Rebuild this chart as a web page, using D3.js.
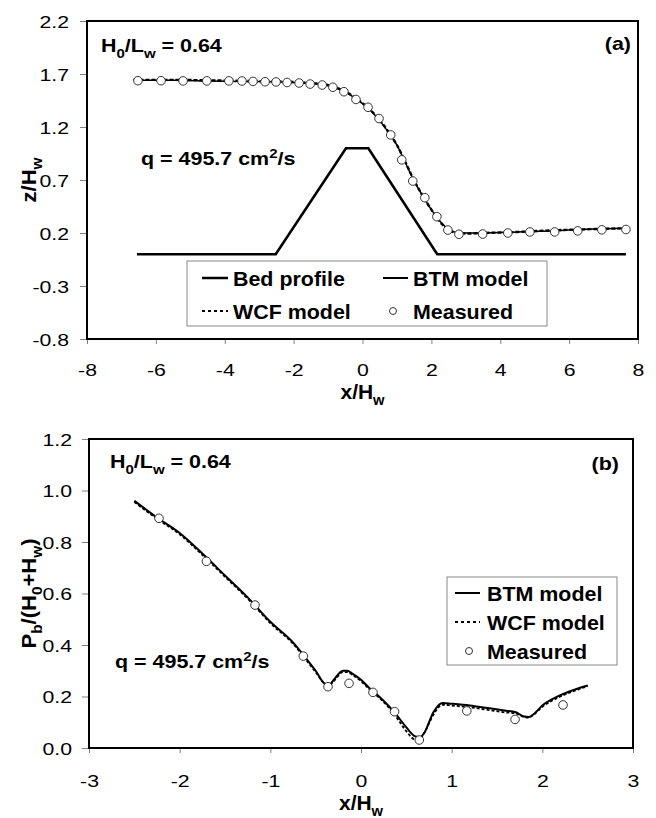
<!DOCTYPE html>
<html>
<head>
<meta charset="utf-8">
<script src="https://cdn.jsdelivr.net/npm/d3@7"></script>
<style>
  body { margin: 0; background: #fff; }
  svg { display: block; font-family: "Liberation Sans", Arial, sans-serif; }
  .tick line { stroke: #808080; }
</style>
</head>
<body>
<div class="chart"></div>
<script>
// ---- panel (a): water surface over the bed hump ----
const bedX = [-6.55, -2.52, -0.48, 0.17, 2.17, 7.65];
const bedZ = [0, 0, 1.0, 1.0, 0, 0];

const surfX = [-6.65, -5.5, -4.5, -3.5, -2.5, -2.0, -1.5, -1.0, -0.75, -0.5, -0.25, 0, 0.25, 0.5, 0.75,
               1.0, 1.25, 1.5, 1.75, 2.0, 2.25, 2.5, 2.75, 3.0, 3.5, 4.5, 5.5, 6.5, 7.65];
const btmZ = [1.64, 1.64, 1.635, 1.63, 1.625, 1.62, 1.61, 1.59, 1.565, 1.53, 1.48, 1.42, 1.35, 1.26, 1.15,
              1.03, 0.86, 0.69, 0.55, 0.42, 0.31, 0.235, 0.205, 0.20, 0.20, 0.21, 0.22, 0.235, 0.245];
const wcfZ = [1.645, 1.645, 1.64, 1.635, 1.63, 1.625, 1.615, 1.595, 1.57, 1.535, 1.485, 1.425, 1.355, 1.265, 1.155,
              1.03, 0.865, 0.695, 0.55, 0.42, 0.305, 0.23, 0.20, 0.195, 0.20, 0.21, 0.225, 0.235, 0.245];

const measAX = [-6.52, -5.85, -5.21, -4.52, -3.88, -3.50, -3.18, -2.83, -2.51, -2.19, -1.84, -1.52, -1.17,
                -0.86, -0.54, -0.19, 0.16, 0.48, 0.82, 1.14, 1.46, 1.81, 2.16, 2.48, 2.80, 3.49, 4.22,
                4.86, 5.58, 6.25, 6.95, 7.65];
const measAZ = [1.637, 1.637, 1.635, 1.635, 1.635, 1.634, 1.63, 1.627, 1.625, 1.62, 1.615, 1.605, 1.596,
                1.575, 1.533, 1.46, 1.386, 1.28, 1.125, 0.89, 0.69, 0.533, 0.354, 0.228, 0.188, 0.19, 0.20,
                0.21, 0.21, 0.22, 0.23, 0.233];

const aXTicks = [-8, -6, -4, -2, 0, 2, 4, 6, 8];
const aYTicks = [-0.8, -0.3, 0.2, 0.7, 1.2, 1.7, 2.2];

// ---- panel (b): bed pressure ----
const presX = [-2.5, -2.25, -2, -1.75, -1.5, -1.25, -1, -0.75, -0.6, -0.5, -0.4, -0.35, -0.3, -0.2, -0.15, -0.1,
               0, 0.1, 0.2, 0.3, 0.4, 0.5, 0.6, 0.65, 0.7, 0.8, 0.9, 1.0, 1.2, 1.4, 1.6, 1.7, 1.8, 1.85, 1.9,
               2.0, 2.2, 2.4, 2.5];
const btmP = [0.96, 0.895, 0.835, 0.755, 0.67, 0.585, 0.49, 0.41, 0.345, 0.30, 0.25, 0.245, 0.265, 0.30, 0.30, 0.29,
              0.265, 0.23, 0.20, 0.165, 0.125, 0.08, 0.045, 0.042, 0.06, 0.14, 0.175, 0.172, 0.165, 0.155, 0.145, 0.14,
              0.122, 0.12, 0.13, 0.165, 0.205, 0.232, 0.243];
const wcfP = [0.955, 0.89, 0.83, 0.75, 0.665, 0.58, 0.485, 0.405, 0.34, 0.295, 0.25, 0.245, 0.26, 0.295, 0.295, 0.285,
              0.26, 0.225, 0.195, 0.16, 0.115, 0.065, 0.033, 0.035, 0.06, 0.13, 0.168, 0.165, 0.158, 0.148, 0.138, 0.135,
              0.12, 0.118, 0.128, 0.16, 0.2, 0.228, 0.24];

const measBX = [-2.228, -1.705, -1.169, -0.636, -0.364, -0.132, 0.132, 0.370, 0.643, 1.167, 1.699, 2.228];
const measBP = [0.892, 0.725, 0.555, 0.357, 0.238, 0.251, 0.216, 0.141, 0.031, 0.144, 0.111, 0.167];

const bXTicks = [-3, -2, -1, 0, 1, 2, 3];
const bYTicks = [0, 0.2, 0.4, 0.6, 0.8, 1.0, 1.2];

// -----------------------------------------------------
const W = 656, H = 818;
const TICK_FS = 17, TICK_SX = 1.25;   // tick numbers are drawn wide in the source

const svg = d3.select("div.chart").append("svg")
    .attr("width", W).attr("height", H);
svg.append("rect").attr("width", W).attr("height", H).attr("fill", "#fff");

// text with sub/superscripts; sx stretches it sideways (or across, when rotated)
function richText(parent, x, y, parts, size, sx, anchor, rotate) {
    let tf = rotate ? `translate(${x},${y}) rotate(-90) scale(1,${sx})`
                    : `translate(${x},${y}) scale(${sx},1)`;
    let t = parent.append("text")
        .attr("transform", tf)
        .style("font-size", size + "px")
        .attr("font-weight", "bold")
        .attr("text-anchor", anchor || "start");
    let shift = 0;
    parts.forEach(p => {
        let s = p[1] === "sub" ? 0.3 * size : p[1] === "sup" ? -0.4 * size : 0;
        t.append("tspan")
            .attr("dy", s - shift)
            .style("font-size", (p[1] ? size * 0.7 : size) + "px")
            .text(p[0]);
        shift = s;
    });
    return t;
}

// plain hyphen minus, like the source
const fmtInt = d => d3.format("d")(d).replace("\u2212", "-");
const fmtOne = d => d3.format(".1f")(d).replace("\u2212", "-");

function drawAxes(g, x, y, box, xTicks, yTicks, ylabX, xlabY) {
    let xa = g.append("g")
        .attr("transform", `translate(0,${box.bottom})`)
        .call(d3.axisBottom(x).tickValues(xTicks).tickSizeInner(5).tickSizeOuter(0).tickFormat(fmtInt))
        .attr("font-family", null).attr("font-size", null);
    xa.select(".domain").remove();
    xa.selectAll("text")
        .attr("y", xlabY).attr("dy", 0)
        .style("font-size", TICK_FS + "px").attr("fill", "#000")
        .attr("transform", `scale(${TICK_SX},1)`);

    let ya = g.append("g")
        .attr("transform", `translate(${box.left},0)`)
        .call(d3.axisLeft(y).tickValues(yTicks).tickSizeInner(7).tickSizeOuter(0).tickFormat(fmtOne))
        .attr("font-family", null).attr("font-size", null);
    ya.select(".domain").remove();
    ya.selectAll("text")
        .attr("x", -ylabX / TICK_SX).attr("dy", "0.36em")
        .style("font-size", TICK_FS + "px").attr("fill", "#000")
        .attr("transform", `scale(${TICK_SX},1)`);

    g.append("rect")
        .attr("x", box.left).attr("y", box.top)
        .attr("width", box.right - box.left).attr("height", box.bottom - box.top)
        .attr("fill", "none").attr("stroke", "#000").attr("stroke-width", 2);
}

function legendRow(g, kind, x0, x1, cy, label, tx) {
    if (kind === "circle") {
        g.append("circle").attr("cx", (x0 + x1) / 2).attr("cy", cy).attr("r", 3.5)
            .attr("fill", "#fff").attr("stroke", "#333").attr("stroke-width", 1);
    } else {
        g.append("line").attr("x1", x0).attr("x2", x1).attr("y1", cy).attr("y2", cy)
            .attr("stroke", "#000")
            .attr("stroke-width", kind === "bed" ? 2.5 : 2)
            .attr("stroke-dasharray", kind === "dash" ? "3,3" : null);
    }
    richText(g, tx, cy + 7.5, [[label]], 21, 1.02);
}

// ================= panel (a) =================
const boxA = {left: 87, right: 638, top: 21, bottom: 339};
const xA = d3.scaleLinear().domain([-8, 8]).range([boxA.left, boxA.right]);
const yA = d3.scaleLinear().domain([-0.8, 2.2]).range([boxA.bottom, boxA.top]);
const gA = svg.append("g");

gA.append("path")
    .datum(d3.zip(bedX, bedZ))
    .attr("d", d3.line().x(d => xA(d[0])).y(d => yA(d[1])))
    .attr("fill", "none").attr("stroke", "#000").attr("stroke-width", 2.6);

gA.append("path")
    .datum(d3.zip(surfX, btmZ))
    .attr("d", d3.line().curve(d3.curveMonotoneX).x(d => xA(d[0])).y(d => yA(d[1])))
    .attr("fill", "none").attr("stroke", "#000").attr("stroke-width", 1.5);
gA.append("path")
    .datum(d3.zip(surfX, wcfZ))
    .attr("d", d3.line().curve(d3.curveMonotoneX).x(d => xA(d[0])).y(d => yA(d[1])))
    .attr("fill", "none").attr("stroke", "#000").attr("stroke-width", 2.4)
    .attr("stroke-dasharray", "4,2");

gA.selectAll("circle.meas")
    .data(d3.zip(measAX, measAZ))
    .enter().append("circle")
    .attr("class", "meas")
    .attr("cx", d => xA(d[0])).attr("cy", d => yA(d[1]))
    .attr("r", 4.3)
    .attr("fill", "#fff").attr("stroke", "#333").attr("stroke-width", 1);

drawAxes(gA, xA, yA, boxA, aXTicks, aYTicks, 18, 37.5);

richText(gA, 101, 52, [["H"], ["0", "sub"], ["/L"], ["w", "sub"], [" = 0.64"]], 18.5, 1.16);
richText(gA, 631, 50, [["(a)"]], 18.5, 1.16, "end");
richText(gA, 141, 165, [["q = 495.7 cm"], ["2", "sup"], ["/s"]], 18.5, 1.16);
richText(gA, 36, (boxA.top + boxA.bottom) / 2, [["z/H"], ["w", "sub"]], 22, 0.95, "middle", true);
richText(gA, (boxA.left + boxA.right) / 2, 399, [["x/H"], ["w", "sub"]], 20, 1.05, "middle");

// legend (a)
gA.append("rect").attr("x", 187).attr("y", 261).attr("width", 360).attr("height", 65)
    .attr("fill", "#fff").attr("stroke", "#888").attr("stroke-width", 1);
legendRow(gA, "bed", 202, 228, 278, "Bed profile", 233);
legendRow(gA, "solid", 383, 408, 278, "BTM model", 413);
legendRow(gA, "dash", 202, 228, 311, "WCF model", 233);
legendRow(gA, "circle", 383, 403, 311, "Measured", 413);

// ================= panel (b) =================
const boxB = {left: 89, right: 633, top: 439, bottom: 748};
const xB = d3.scaleLinear().domain([-3, 3]).range([boxB.left, boxB.right]);
const yB = d3.scaleLinear().domain([0, 1.2]).range([boxB.bottom, boxB.top]);
const gB = svg.append("g");

gB.append("path")
    .datum(d3.zip(presX, btmP))
    .attr("d", d3.line().curve(d3.curveMonotoneX).x(d => xB(d[0])).y(d => yB(d[1])))
    .attr("fill", "none").attr("stroke", "#000").attr("stroke-width", 2);
gB.append("path")
    .datum(d3.zip(presX, wcfP))
    .attr("d", d3.line().curve(d3.curveMonotoneX).x(d => xB(d[0])).y(d => yB(d[1])))
    .attr("fill", "none").attr("stroke", "#000").attr("stroke-width", 1.8)
    .attr("stroke-dasharray", "3,2");

gB.selectAll("circle.meas")
    .data(d3.zip(measBX, measBP))
    .enter().append("circle")
    .attr("class", "meas")
    .attr("cx", d => xB(d[0])).attr("cy", d => yB(d[1]))
    .attr("r", 4.3)
    .attr("fill", "#fff").attr("stroke", "#333").attr("stroke-width", 1);

drawAxes(gB, xB, yB, boxB, bXTicks, bYTicks, 17, 39);

richText(gB, 110, 468, [["H"], ["0", "sub"], ["/L"], ["w", "sub"], [" = 0.64"]], 18.5, 1.16);
richText(gB, 619, 470, [["(b)"]], 18.5, 1.16, "end");
richText(gB, 115, 668, [["q = 495.7 cm"], ["2", "sup"], ["/s"]], 18.5, 1.16);
richText(gB, 36, (boxB.top + boxB.bottom) / 2,
    [["P"], ["b", "sub"], ["/(H"], ["0", "sub"], ["+H"], ["w", "sub"], [")"]], 22, 0.95, "middle", true);
richText(gB, (boxB.left + boxB.right) / 2, 810, [["x/H"], ["w", "sub"]], 20, 1.05, "middle");

// legend (b)
gB.append("rect").attr("x", 447).attr("y", 577).attr("width", 170).attr("height", 88)
    .attr("fill", "#fff").attr("stroke", "#888").attr("stroke-width", 1);
legendRow(gB, "solid", 455, 480, 593, "BTM model", 487);
legendRow(gB, "dash", 455, 480, 622, "WCF model", 487);
legendRow(gB, "circle", 459, 479, 651, "Measured", 487);
</script>
</body>
</html>
